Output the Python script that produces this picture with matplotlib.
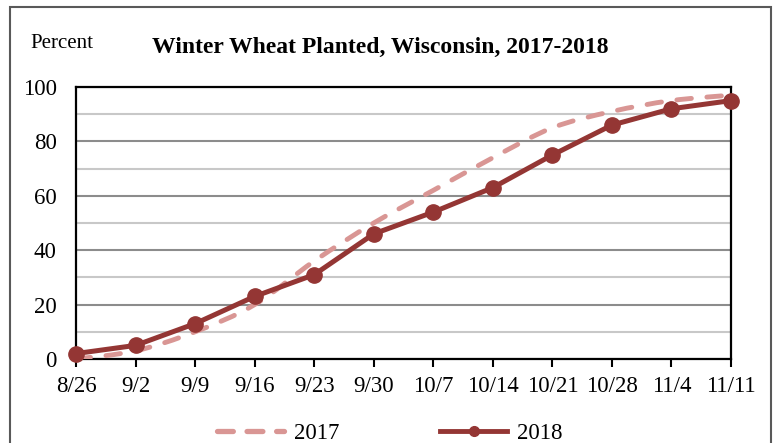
import matplotlib.pyplot as plt
from matplotlib.path import Path
from matplotlib.patches import PathPatch, Rectangle
from matplotlib.lines import Line2D
import numpy as np

plt.rcParams["font.family"] = ["Liberation Serif", "DejaVu Serif"]

# data
weeks = ["8/26", "9/2", "9/9", "9/16", "9/23", "9/30",
         "10/7", "10/14", "10/21", "10/28", "11/4", "11/11"]
pct_2017 = [0, 3, 10, 20, 36, 50, 62, 74, 85, 91, 95, 97]
pct_2018 = [2, 5, 13, 23, 31, 46, 54, 63, 75, 86, 92, 95]

c2017 = "#D99694"
c2018 = "#943634"

fig = plt.figure(figsize=(7.76, 4.43), dpi=100)
ax = fig.add_axes([76 / 776, 1 - 359 / 443, 655 / 776, 272 / 443])

x = np.arange(len(weeks))


def smooth_path(xs, ys):
    # Excel-style smoothed line: cubic Bezier segments through the points
    pts = np.column_stack([xs, ys]).astype(float)
    n = len(pts)
    verts = [pts[0]]
    codes = [Path.MOVETO]
    for i in range(n - 1):
        p0 = pts[max(i - 1, 0)]
        p1 = pts[i]
        p2 = pts[i + 1]
        p3 = pts[min(i + 2, n - 1)]
        verts += [p1 + (p2 - p0) / 6, p2 - (p3 - p1) / 6, p2]
        codes += [Path.CURVE4] * 3
    return Path(verts, codes)


ax.add_patch(PathPatch(smooth_path(x, pct_2017), fill=False, edgecolor=c2017,
                       lw=3.5, linestyle=(0, (3, 3.2)), capstyle="round",
                       zorder=3))
ax.plot(x, pct_2018, color=c2018, lw=3.6, marker="o", markersize=11,
        zorder=4, clip_on=False)

ax.set_xlim(0, len(weeks) - 1)
ax.set_ylim(0, 100)
ax.set_xticks(x)
ax.set_xticklabels(weeks)
ax.set_yticks(range(0, 101, 20))
ax.set_yticks(range(10, 100, 20), minor=True)
ax.tick_params(axis="x", length=6, width=1.5, labelsize=16.5, pad=6)
ax.tick_params(axis="y", length=0, labelsize=16.5, pad=14)
ax.tick_params(axis="y", which="minor", length=0)
ax.grid(axis="y", which="major", color="#8C8C8C", lw=1.5, zorder=0)
ax.grid(axis="y", which="minor", color="#C8C8C8", lw=1.5, zorder=0)
for s in ax.spines.values():
    s.set_linewidth(1.6)
    s.set_color("black")

fig.text(380 / 776, 1 - 47 / 443, "Winter Wheat Planted, Wisconsin, 2017-2018",
         ha="center", va="center", fontsize=17, fontweight="bold")
fig.text(30 / 776, 1 - 44 / 443, "Percent", ha="left", va="center",
         fontsize=15)

handles = [
    Line2D([], [], color=c2017, lw=3.8, linestyle=(0, (3, 2.6)),
           dash_capstyle="round"),
    Line2D([], [], color=c2018, lw=3.5, marker="o", markersize=7),
]
fig.legend(handles, ["2017", "2018"], loc="center", ncol=2,
           bbox_to_anchor=(390 / 776, 1 - 433 / 443), frameon=False,
           fontsize=16.5, handlelength=2.9, columnspacing=4.4,
           handletextpad=0.45)

fig.add_artist(Rectangle((10 / 776, -0.1), 761 / 776, 1.1 - 7 / 443,
                         transform=fig.transFigure, fill=False,
                         edgecolor="#595959", lw=1.5, clip_on=False))

fig.savefig("out.png", dpi=100)
